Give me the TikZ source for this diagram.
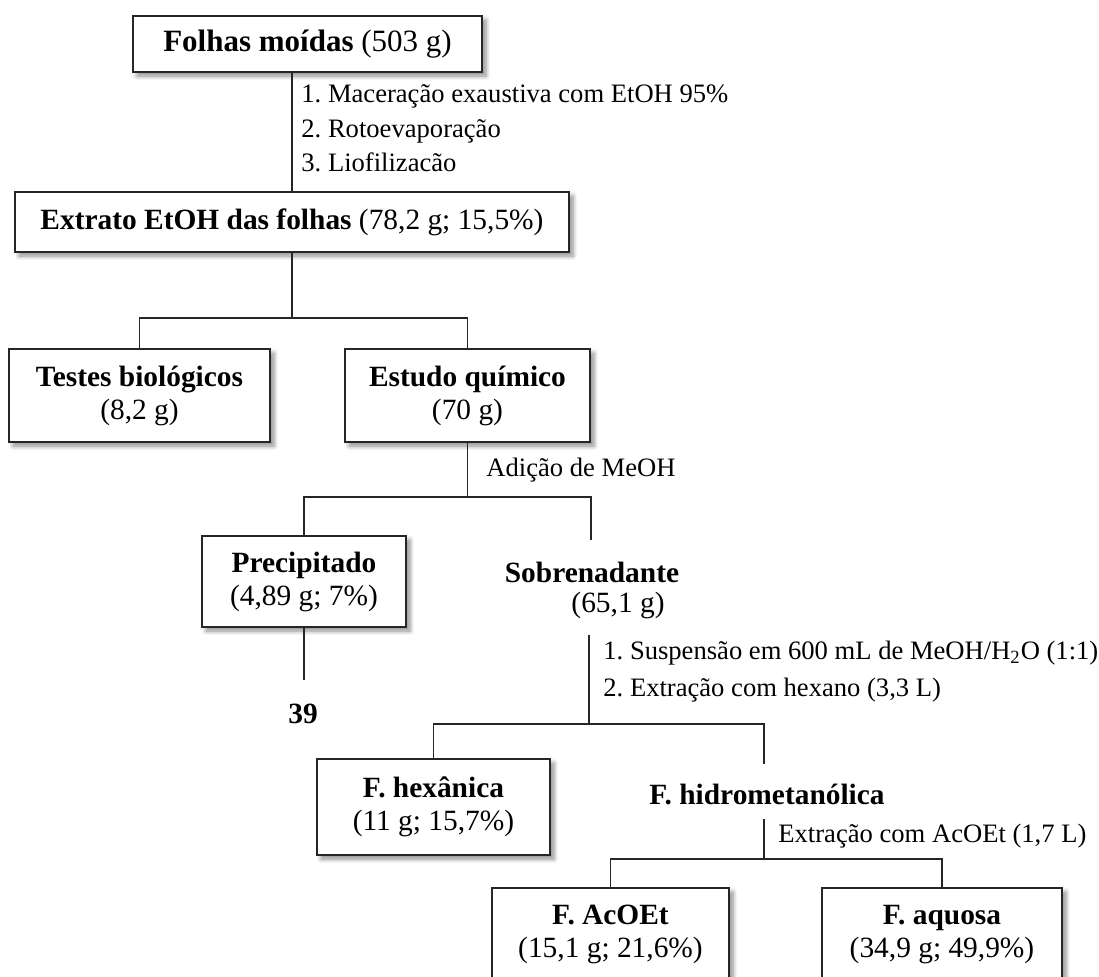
\documentclass[12pt,tikz,border=0pt]{standalone}
\usepackage{fontspec}
\setmainfont{Liberation Serif}
\usepackage{tikz}
\usetikzlibrary{positioning,calc,shadows.blur}
\usepackage{xcolor}
\frenchspacing

\begin{document}
\begin{tikzpicture}[x=0.5pt,y=-0.5pt,
                    caixa/.style={draw=black!85,line width=0.8pt,fill=white,align=center,inner sep=2pt,
                        font=\fontsize{14.7}{16.5}\selectfont,
                        blur shadow={shadow xshift=2pt,shadow yshift=-2pt,shadow blur steps=6,shadow opacity=45}},
                    rotulo/.style={align=center,inner sep=1pt,font=\fontsize{14.7}{16.5}\selectfont},
                    passo/.style={anchor=base west,inner sep=1pt,font=\fontsize{13.3}{15}\selectfont},
                    liga/.style={line width=0.6pt,black!85}]
                    \useasboundingbox (0,0) rectangle (1099,976);
                    % caixas e rotulos
                    \node[caixa,font=\fontsize{15.5}{18}\selectfont,minimum width=174.5pt,minimum height=28pt] (fol) at (307.5,44) {\textbf{Folhas moídas} (503 g)};
                    \node[caixa,minimum width=277pt,minimum height=30pt] (ext) at (292,222) {\textbf{Extrato EtOH das folhas} (78,2 g; 15,5\%)};
                    \node[caixa,minimum width=130.5pt,minimum height=46.5pt] (tes) at (139.5,395.5) {\textbf{Testes biológicos}\\(8,2 g)};
                    \node[caixa,minimum width=122.5pt,minimum height=46.5pt] (est) at (467.5,395.5) {\textbf{Estudo químico}\\(70 g)};
                    \node[caixa,minimum width=102pt,minimum height=45.5pt] (pre) at (304,581.5) {\textbf{Precipitado}\\(4,89 g; 7\%)};
                    \node[rotulo] (sob) at (592,572) {\textbf{Sobrenadante}};
                    \node[rotulo] (sobm) at (618,605) {(65,1 g)};
                    \node[rotulo] (n39) at (303,714) {\textbf{39}};
                    \node[caixa,minimum width=116.5pt,minimum height=48pt] (hex) at (433.5,807) {\textbf{F. hexânica}\\(11 g; 15,7\%)};
                    \node[rotulo] (hid) at (767,794) {\textbf{F. hidrometanólica}};
                    \node[caixa,minimum width=118.5pt,minimum height=46.5pt] (aco) at (610.5,934.5) {\textbf{F. AcOEt}\\(15,1 g; 21,6\%)};
                    \node[caixa,minimum width=120pt,minimum height=46.5pt] (aqu) at (942,934.5) {\textbf{F. aquosa}\\(34,9 g; 49,9\%)};
                    % etapas
                    \node[passo] (p1) at (299,102) {1. Maceração exaustiva com EtOH 95\%};
                    \node[passo] (p2) at (299,137) {2. Rotoevaporação};
                    \node[passo] (p3) at (299,171) {3. Liofilizacão};
                    \node[passo] (p4) at (484,476) {Adição de MeOH};
                    \node[passo] (p5) at (601,659) {1. Suspensão em 600 mL de MeOH/H\textsubscript{2}O (1:1)};
                    \node[passo] (p6) at (601,696) {2. Extração com hexano (3,3 L)};
                    \node[passo] (p7) at (776,842) {Extração com AcOEt (1,7 L)};
                    % pontos das ramificacoes
                    \coordinate (r1) at (292,318);
                    \coordinate (r2) at (467.5,497);
                    \coordinate (r3) at (589,724);
                    \coordinate (r4) at (764,859);
                    \coordinate (s1) at (591,540);
                    \coordinate (s2) at (304,680);
                    \coordinate (s3) at (589,635);
                    \coordinate (s4) at (764,764);
                    \coordinate (s5) at (764,819);
                    % ligacoes
                    \draw[liga] (fol.south -| ext.north) -- (ext.north);
                    \draw[liga] (ext.south) -- (r1);
                    \draw[liga] (tes.north) |- (r1) -| (est.north);
                    \draw[liga] (est.south) -- (r2);
                    \draw[liga] (pre.north) |- (r2) -| (s1);
                    \draw[liga] (pre.south) -- (s2);
                    \draw[liga] (s3) -- (r3);
                    \draw[liga] (hex.north) |- (r3) -| (s4);
                    \draw[liga] (s5) -- (r4);
                    \draw[liga] (aco.north) |- (r4) -| (aqu.north);
                \end{tikzpicture}
\end{document}
